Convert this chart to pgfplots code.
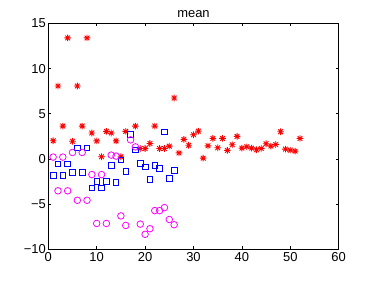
\documentclass[border=0pt]{standalone}
\usepackage{pgfplots}
\pgfplotsset{compat=1.18}
\usepackage{fontspec}
\setmainfont{Liberation Sans}
\definecolor{mred}{rgb}{1,0,0}
\definecolor{mblue}{rgb}{0,0,1}
\definecolor{mmag}{rgb}{1,0,1}
\pgfdeclareplotmark{mstar}{%
  \pgfpathmoveto{\pgfqpoint{-\pgfplotmarksize}{0pt}}\pgfpathlineto{\pgfqpoint{\pgfplotmarksize}{0pt}}%
  \pgfpathmoveto{\pgfqpoint{0pt}{-\pgfplotmarksize}}\pgfpathlineto{\pgfqpoint{0pt}{\pgfplotmarksize}}%
  \pgfpathmoveto{\pgfqpoint{-0.707\pgfplotmarksize}{-0.707\pgfplotmarksize}}\pgfpathlineto{\pgfqpoint{0.707\pgfplotmarksize}{0.707\pgfplotmarksize}}%
  \pgfpathmoveto{\pgfqpoint{-0.707\pgfplotmarksize}{0.707\pgfplotmarksize}}\pgfpathlineto{\pgfqpoint{0.707\pgfplotmarksize}{-0.707\pgfplotmarksize}}%
  \pgfusepathqstroke}
\begin{document}
\begin{tikzpicture}
\path[use as bounding box] (-48.3bp,-32bp) rectangle (325.7bp,249bp);
\begin{axis}[
  scale only axis, width=290.4bp, height=225.5bp,
  xmin=0, xmax=60, ymin=-10, ymax=15,
  xtick={0,10,...,60}, ytick={-10,-5,0,5,10,15},
  yticklabels={−10,−5,0,5,10,15},
  /pgf/number format/assume math mode=true,
  tick align=inside, major tick length=3bp,
  axis line style={line width=0.5pt},
  tick style={line width=0.5pt, black},
  ticklabel style={font=\fontsize{13}{15}\selectfont},
  title={mean}, title style={font=\fontsize{13}{15}\selectfont, yshift=-4bp},
  yticklabel style={xshift=1bp},
  clip=false,
]
\addplot[only marks, mark=mstar, mark size=3.3bp, draw=mred, line width=0.9pt] coordinates {
(1,2.0)(2,8.07)(3,3.63)(4,13.4)(5,1.95)(6,8.07)(7,3.63)(8,13.4)
(9,2.86)(10,1.98)(11,0.23)(12,3.04)(13,2.86)(14,1.98)(15,0.23)(16,3.04)
(18,3.63)(19,1.14)(20,1.14)(21,1.7)(22,3.63)(23,1.14)(24,1.14)(25,1.4)
(26,6.74)(27,0.65)(28,2.15)(29,1.5)(30,2.67)(31,3.07)(32,0.07)(33,1.44)
(34,2.26)(35,1.22)(36,2.26)(37,0.93)(38,1.56)(39,2.48)(40,1.19)(41,1.33)
(42,1.19)(43,1.0)(44,1.15)(45,1.67)(46,1.41)(47,1.59)(48,3.0)(49,1.07)
(50,0.96)(51,0.85)(52,2.26)
};
\addplot[only marks, mark=square, mark size=2.8bp, draw=mblue, mark options={draw=mblue, fill=none}, line width=0.8pt] coordinates {
(1,-1.82)(2,-0.58)(3,-1.82)(4,-0.58)(5,-1.49)(6,1.21)(7,-1.49)(8,1.21)
(9,-3.22)(10,-2.52)(11,-3.22)(12,-2.52)(13,-0.76)(14,-2.63)(15,-0.14)(16,-1.42)
(17,2.72)(18,1.0)(19,-0.5)(20,-0.91)(21,-2.26)(22,-0.76)(23,-1.09)(24,3.0)
(25,-2.19)(26,-1.31)
};
\addplot[only marks, mark=o, mark size=3.3bp, draw=mmag, mark options={draw=mmag, fill=none}, line width=0.8pt] coordinates {
(1,0.19)(2,-3.55)(3,0.19)(4,-3.55)(5,0.70)(6,-4.6)(7,0.70)(8,-4.6)
(9,-1.75)(10,-7.17)(11,-1.75)(12,-7.17)(13,0.41)(14,0.30)(15,-6.33)(16,-7.39)
(17,2.1)(18,1.32)(19,-7.24)(20,-8.37)(21,-7.75)(22,-5.74)(23,-5.74)(24,-5.41)
(25,-6.73)(26,-7.31)
};
\end{axis}
\end{tikzpicture}
\end{document}
